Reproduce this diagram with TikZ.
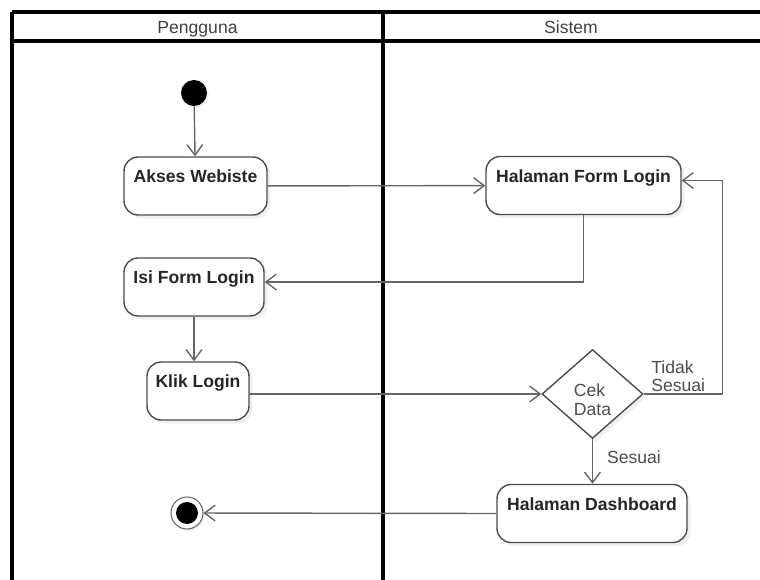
\documentclass[tikz,border=0pt]{standalone}
\usepackage{fontspec}
\setmainfont{Liberation Sans}
\usetikzlibrary{shapes.geometric,arrows.meta,shadows}

\begin{document}
\begin{tikzpicture}[x=0.02cm,y=-0.02cm]

    \tikzstyle{header}=[font=\fontsize{10}{12}\selectfont, text=black!75, anchor=base]
    \tikzstyle{activity}=[rectangle, rounded corners=8pt, draw=black!70, line width=0.8pt, fill=white,
                          drop shadow={shadow xshift=2pt, shadow yshift=-2pt, opacity=0.12},
                          font=\fontsize{10}{12}\selectfont\bfseries, text=black!85,
                          inner ysep=0pt, text height=0.52cm, text depth=0.64cm]
    \tikzstyle{decision}=[diamond, draw=black!70, line width=0.8pt, fill=white, inner sep=0pt,
                          minimum width=2.02cm, minimum height=1.78cm, align=left,
                          text height=24pt, text depth=0pt,
                          drop shadow={shadow xshift=2pt, shadow yshift=-2pt, opacity=0.12},
                          font=\fontsize{10}{10.5}\selectfont, text=black!70]
    \tikzstyle{startdot}=[circle, fill=black, minimum size=0.52cm, inner sep=0pt,
                          drop shadow={shadow xshift=1pt, shadow yshift=-1pt, opacity=0.12}]
    \tikzstyle{enddot}=[circle, draw=black!60, line width=0.6pt, fill=white, minimum size=0.64cm, inner sep=0pt,
                        drop shadow={shadow xshift=1pt, shadow yshift=-1pt, opacity=0.12},
                        path picture={\fill[black] (path picture bounding box.center) circle (0.22cm);}]
    \tikzstyle{flow}=[draw=black!60, line width=0.8pt, -{Straight Barb[length=6pt,width=9pt]}]
    \tikzstyle{guard}=[font=\fontsize{10}{10.5}\selectfont, text=black!70, inner sep=0pt]

    \useasboundingbox (0,0) rectangle (760,580);

    % lajur
    \draw[line width=1.8pt] (12,580)  -- (12,12)
                            (12,12)   -- (760,12)
                            (12,41)   -- (760,41)
                            (383,12)  -- (383,580);
    \node[header] (pengguna) at (197.5,34) {Pengguna};
    \node[header] (sistem)   at (571,34)   {Sistem};

    % aktivitas
    \node[startdot] (mulai) at (194,93) {};
    \node[activity, minimum width=2.86cm] (akses) at (195.5,186) {Akses Webiste};
    \node[activity, minimum width=3.9cm]  (form)  at (583.5,185.5) {Halaman Form Login};
    \node[activity, minimum width=2.8cm]  (isi)   at (194,287) {Isi Form Login};
    \node[activity, minimum width=2.04cm] (klik)  at (198,391) {Klik Login};
    \node[decision] (cek) at (592.5,394) {Cek\\Data};
    \node[activity, minimum width=3.8cm]  (dash)  at (592,513.5) {Halaman Dashboard};
    \node[enddot] (selesai) at (187,513) {};

    \node[guard, align=left, anchor=west] (tidak) at (651,376) {Tidak\\Sesuai};
    \node[guard] (sesuai) at (634,457) {Sesuai};

    % alur
    \draw[flow] (mulai) -- (akses);
    \draw[flow] (akses) -- (form);
    \draw[flow] (form.south) |- ([yshift=0.1cm]isi.east);
    \draw[flow] (isi.south) -- (isi.south |- klik.north);
    \draw[flow] (klik.east |- cek.west) -- (cek.west);
    \draw[flow] (cek.east) -- ++(79,0) |- ([yshift=0.1cm]form.east);
    \draw[flow] (cek.south) -- (cek.south |- dash.north);
    \draw[flow] (dash.west) -- (selesai);
\end{tikzpicture}
\end{document}
